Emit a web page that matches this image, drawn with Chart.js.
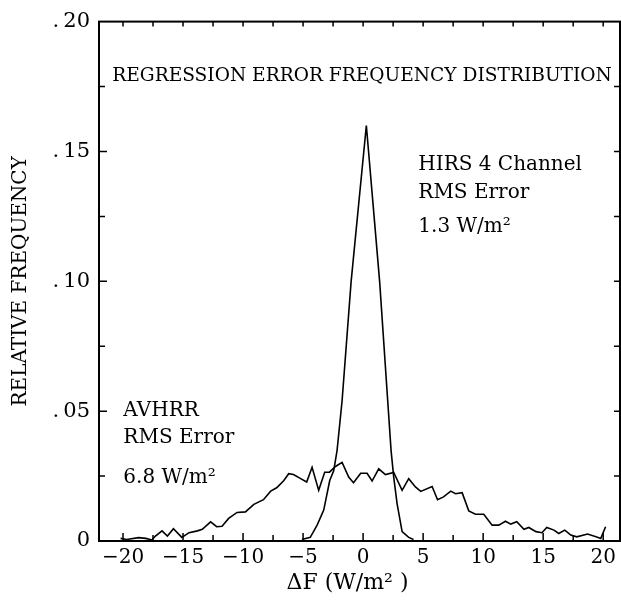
<!DOCTYPE html>
<html>
<head>
<meta charset="utf-8">
<script src="https://cdn.jsdelivr.net/npm/chart.js@4.4.1/dist/chart.umd.min.js"></script>
<style>
    html, body { margin: 0; padding: 0; background: #fff; }
</style>
</head>
<body>
<canvas id="chart" width="621" height="600"></canvas>
<script>
// AVHRR regression error distribution
const avhrrX = [-20.2, -19.7, -18.7, -18.1, -17.6, -17.3, -16.75, -16.3, -15.8, -15.1, -14.5, -13.8, -13.4,
    -12.7, -12.2, -11.75, -11.2, -10.5, -9.8, -9.1, -8.3, -7.7, -7.2, -6.6, -6.2, -5.8, -5.2, -4.7, -4.25,
    -3.7, -3.2, -2.8, -2.3, -1.75, -1.2, -0.8, -0.2, 0.33, 0.75, 1.3, 1.86, 2.55, 3.25, 3.8, 4.36, 4.8,
    5.75, 6.2, 6.7, 7.3, 7.7, 8.25, 8.8, 9.36, 10.05, 10.75, 11.3, 11.86, 12.3, 12.8, 13.4, 13.8, 14.4,
    14.9, 15.3, 15.9, 16.3, 16.8, 17.3, 17.8, 18.7, 19.4, 19.8, 20.2];
const avhrrY = [0.001, 0.0006, 0.0013, 0.001, 0.0004, 0.0019, 0.0039, 0.0019, 0.0047, 0.0014, 0.0032, 0.0039, 0.0045,
    0.0074, 0.0055, 0.0057, 0.0087, 0.011, 0.0112, 0.0141, 0.0159, 0.0192, 0.0205, 0.0233, 0.0259, 0.0256, 0.024, 0.0227, 0.0284,
    0.0195, 0.0265, 0.0265, 0.0287, 0.0303, 0.0246, 0.0224, 0.0261, 0.0261, 0.0231, 0.0278, 0.0256, 0.0264, 0.0195, 0.024, 0.0208, 0.0191,
    0.021, 0.0159, 0.017, 0.0192, 0.0182, 0.0186, 0.0116, 0.0103, 0.0103, 0.0061, 0.0061, 0.0076, 0.0065, 0.0074, 0.0045, 0.0052, 0.0036,
    0.0032, 0.0052, 0.0042, 0.0029, 0.0042, 0.0023, 0.0016, 0.0027, 0.0016, 0.001, 0.0055];

// HIRS 4 channel distribution
const hirsX = [-5.1, -4.4, -3.83, -3.28, -2.78, -2.45, -2.17, -1.75, -1.0, 0.27, 1.38, 2.05, 2.33, 2.55, 2.83, 3.25, 3.8, 4.2];
const hirsY = [0.0006, 0.0014, 0.0061, 0.0119, 0.0233, 0.027, 0.0348, 0.054, 0.0998, 0.160, 0.0998, 0.054, 0.0348, 0.0246, 0.0144, 0.0036, 0.0014, 0.0006];

const xTickValues = [-20, -15, -10, -5, 0, 5, 10, 15, 20];
const xTickLabels = ['\u221220', '\u221215', '\u221210', '\u22125', '0', '5', '10', '15', '20'];
const yTickValues = [0, 0.05, 0.10, 0.15, 0.20];
const yTickLabels = ['0', '.\u200905', '.\u200910', '.\u200915', '.\u200920'];

const FONT = "'DejaVu Serif', serif";

function toPoints(xs, ys) {
    return xs.map((x, i) => ({ x: x, y: ys[i] }));
}

// frame, inward ticks and text notes
const framePlugin = {
    id: 'frame',
    afterDatasetsDraw(chart) {
        const { ctx, chartArea: a, scales: { x, y } } = chart;
        ctx.save();
        ctx.strokeStyle = '#000';
        ctx.lineWidth = 2;
        ctx.strokeRect(a.left, a.top, a.right - a.left, a.bottom - a.top);

        ctx.lineWidth = 1.5;
        ctx.beginPath();
        for (let v = -20; v <= 20; v += 2.5) {
            const px = x.getPixelForValue(v);
            const major = v % 5 === 0;
            ctx.moveTo(px, a.bottom); ctx.lineTo(px, a.bottom - (major ? 8 : 6));
            ctx.moveTo(px, a.top); ctx.lineTo(px, a.top + 5);
        }
        for (let k = 1; k < 8; k++) {
            const py = y.getPixelForValue(k * 0.025);
            const major = k % 2 === 0;
            ctx.moveTo(a.left, py); ctx.lineTo(a.left + (major ? 8 : 6), py);
            ctx.moveTo(a.right, py); ctx.lineTo(a.right - 6, py);
        }
        ctx.stroke();

        ctx.fillStyle = '#000';
        ctx.textBaseline = 'middle';
        ctx.textAlign = 'left';
        const note = (txt, vx, vy) => ctx.fillText(txt, x.getPixelForValue(vx), y.getPixelForValue(vy));
        ctx.font = '18.6px ' + FONT;
        note('REGRESSION ERROR FREQUENCY DISTRIBUTION', -20.9, 0.179);
        ctx.font = '20px ' + FONT;
        note('HIRS 4 Channel', 4.6, 0.145);
        note('RMS Error', 4.6, 0.134);
        note('1.3 W/m\u00b2', 4.6, 0.121);
        note('AVHRR', -19.97, 0.050);
        note('RMS Error', -19.97, 0.0398);
        note('6.8 W/m\u00b2', -19.97, 0.0245);

        ctx.textAlign = 'center';
        ctx.font = '22px ' + FONT;
        ctx.fillText('\u0394F (W/m\u00b2 )', x.getPixelForValue(-1.3), 583);
        ctx.restore();
    }
};

const chart = new Chart(document.getElementById('chart'), {
    type: 'line',
    data: {
        datasets: [
            { label: 'AVHRR', data: toPoints(avhrrX, avhrrY), borderColor: '#000', borderWidth: 1.6, pointRadius: 0, tension: 0, fill: false },
            { label: 'HIRS', data: toPoints(hirsX, hirsY), borderColor: '#000', borderWidth: 1.6, pointRadius: 0, tension: 0, fill: false }
        ]
    },
    options: {
        responsive: false,
        animation: false,
        layout: { padding: { top: 18, right: 1, left: 0, bottom: 0 } },
        plugins: { legend: { display: false }, tooltip: { enabled: false } },
        scales: {
            x: {
                type: 'linear',
                min: -22,
                max: 21.4,
                grid: { display: false, drawTicks: false },
                border: { display: false },
                afterBuildTicks: axis => { axis.ticks = xTickValues.map(v => ({ value: v })); },
                afterFit: axis => { axis.height = 59; },
                ticks: {
                    color: '#000',
                    padding: 5,
                    maxRotation: 0,
                    font: { family: FONT, size: 20 },
                    callback: v => xTickLabels[xTickValues.indexOf(v)]
                }
            },
            y: {
                min: 0,
                max: 0.2,
                grid: { display: false, drawTicks: false },
                border: { display: false },
                afterBuildTicks: axis => { axis.ticks = yTickValues.map(v => ({ value: v })); },
                afterFit: axis => { axis.width = 99; },
                ticks: {
                    color: '#000',
                    padding: 9,
                    font: { family: FONT, size: 21 },
                    callback: v => yTickLabels[yTickValues.indexOf(v)]
                },
                title: {
                    display: true,
                    text: 'RELATIVE FREQUENCY',
                    color: '#000',
                    padding: { top: 9, bottom: 0 },
                    font: { family: FONT, size: 20 }
                }
            }
        }
    },
    plugins: [framePlugin]
});
</script>
</body>
</html>
